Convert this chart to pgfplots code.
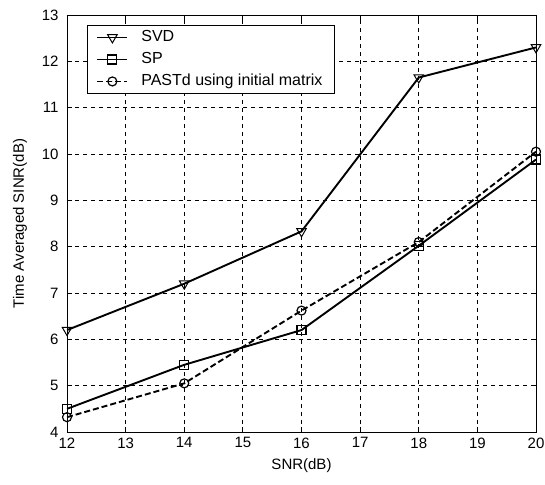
\documentclass[border=0pt]{standalone}
\usepackage{pgfplots}
\pgfplotsset{compat=1.18}
\usepackage{fontspec}
\setmainfont{Liberation Sans}
\begin{document}
\begin{tikzpicture}
\begin{axis}[
  name=main,
  scale only axis,
  width=469pt, height=417pt,
  xmin=12, xmax=20, ymin=4, ymax=13,
  xtick={12,13,...,20}, ytick={4,5,...,13},
  font=\fontsize{15}{17}\selectfont,
  /pgf/number format/assume math mode=true,
  grid=major,
  major grid style={black, line width=0.8pt, dash pattern=on 4pt off 4pt},
  axis line style={black, line width=0.9pt},
  tick align=inside, tick style={black, line width=0.8pt},
  major tick length=5pt,
  xticklabel style={yshift=-2pt},
  yticklabel style={xshift=-5pt},
  xlabel={SNR(dB)}, ylabel={Time Averaged SINR(dB)},
  every axis x label/.style={at={(axis description cs:0.5,0)}, anchor=center, yshift=-34pt},
  every axis y label/.style={at={(axis description cs:0,0.5)}, anchor=center, xshift=-47pt, rotate=90},
  legend style={at={(0.0426,0.976)}, anchor=north west, draw=black, line width=0.9pt,
    font=\fontsize{16}{18}\selectfont, row sep=6pt, column sep=10pt, inner xsep=9pt, inner ysep=4pt,
    nodes={inner ysep=1pt, inner xsep=3pt, text height=11pt, text depth=3pt}},
  legend image code/.code={
    \draw[mark repeat=2,mark phase=2] plot coordinates {(0pt,0pt) (15pt,0pt) (30pt,0pt)};},
  legend cell align=left,
]
\addplot[black, line width=1.9pt, mark=triangle, mark options={rotate=180, solid, line width=1pt, fill=white}, mark size=5.5pt]
  coordinates {(12,6.2) (14,7.2) (16,8.33) (18,11.65) (20,12.3)};
\addlegendentry{SVD}
\addplot[black, line width=1.9pt, mark=square, mark options={solid, line width=1.2pt, fill=white}, mark size=4.5pt]
  coordinates {(12,4.5) (14,5.45) (16,6.2) (18,8.02) (20,9.88)};
\addlegendentry{SP}
\addplot[black, line width=1.9pt, dash pattern=on 6pt off 3pt, mark=o, mark options={solid, line width=1.2pt, fill=white}, mark size=4.5pt]
  coordinates {(12,4.32) (14,5.05) (16,6.62) (18,8.1) (20,10.05)};
\addlegendentry{PASTd using initial matrix}
\end{axis}
\pgfresetboundingbox
\path[use as bounding box] ([shift={(-67pt,-52pt)}]main.south west) rectangle ([shift={(9pt,15pt)}]main.north east);
\end{tikzpicture}
\end{document}
